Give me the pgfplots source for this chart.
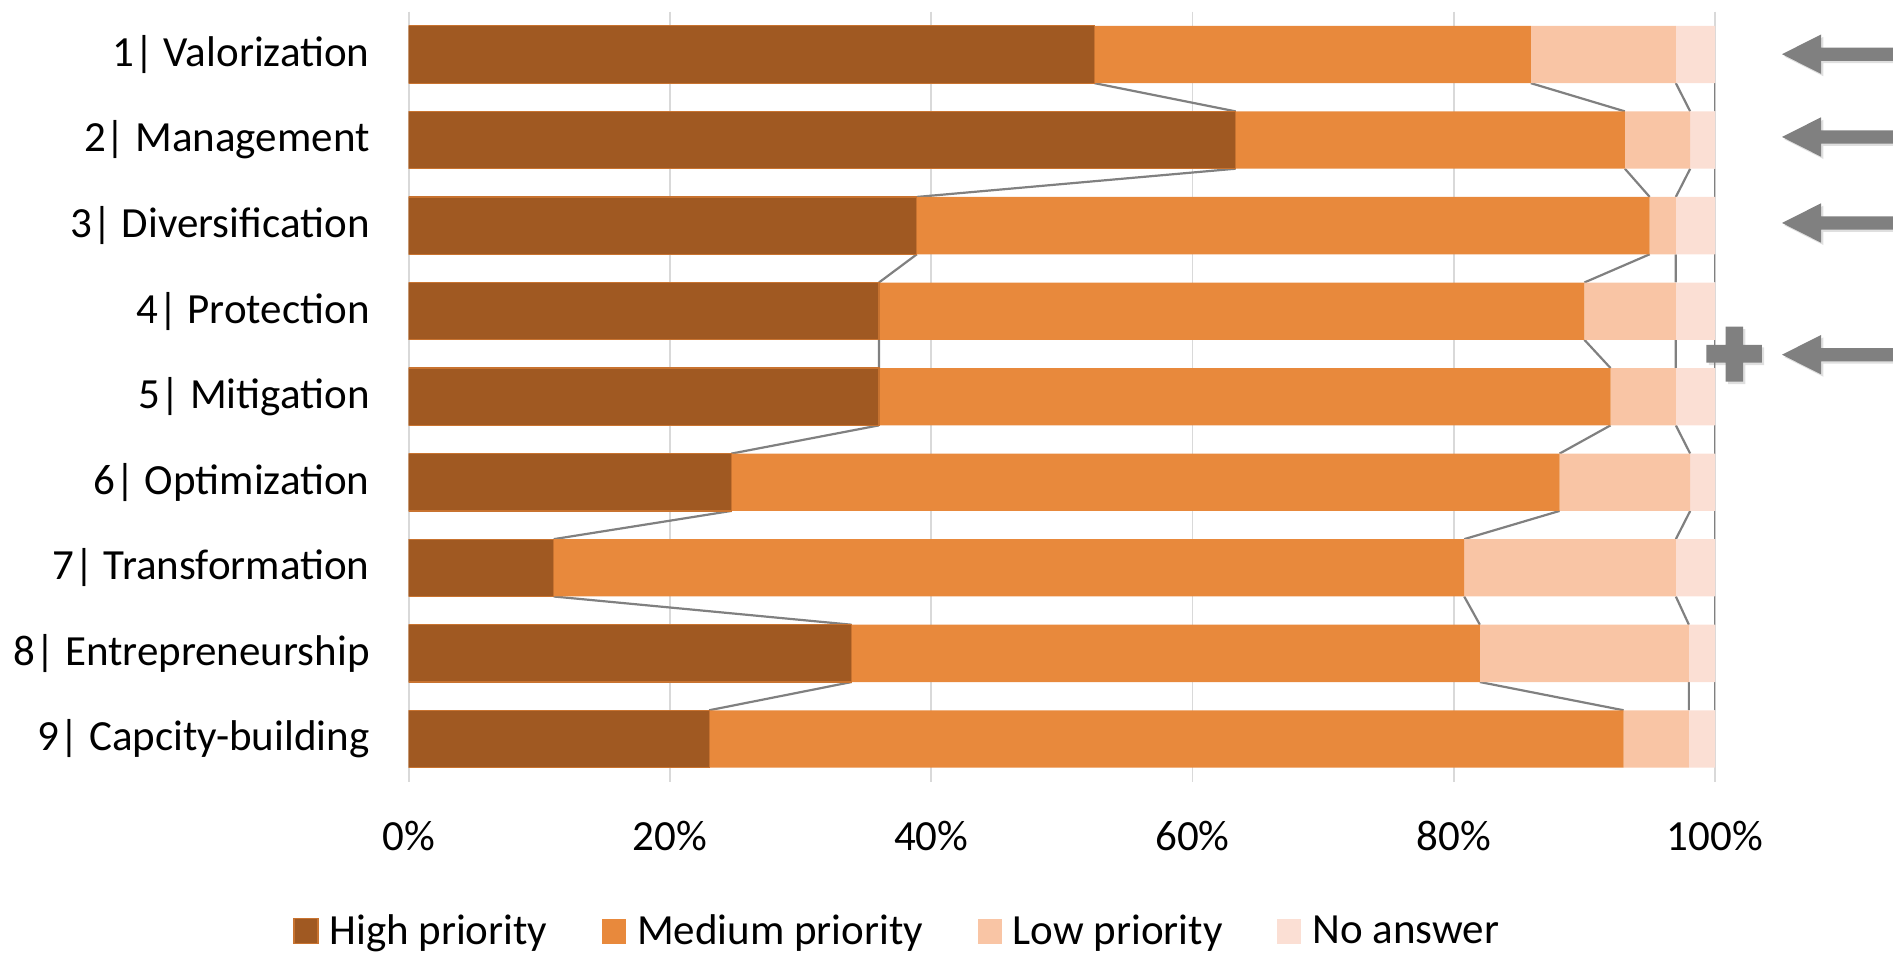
\documentclass[border=0pt]{standalone}
\usepackage{fontspec}
\setmainfont{Carlito}
\usepackage{pgfplots}
\usepackage{pgfplotstable}
\pgfplotsset{compat=1.18}
\usetikzlibrary{shadows}

\definecolor{cHigh}{RGB}{160,89,34}
\definecolor{cMed}{RGB}{232,137,60}
\definecolor{cLow}{RGB}{249,197,165}
\definecolor{cNA}{RGB}{251,223,212}
\definecolor{gridgray}{RGB}{217,217,217}
\definecolor{axgray}{RGB}{191,191,191}
\definecolor{lineg}{RGB}{128,128,128}

% shares per measure (percent of respondents)
\pgfplotstableread{
cat high med  low  na
1   52.5 33.4 11.1 3.0
2   63.3 29.8 5.0  1.9
3   38.9 56.1 2.0  3.0
4   36.0 54.0 7.0  3.0
5   36.0 56.0 5.0  3.0
6   24.7 63.4 10.0 1.9
7   11.1 69.7 16.2 3.0
8   33.9 48.1 16.0 2.0
9   23.0 70.0 5.0  2.0
}\prio

\newcommand{\lblfont}{\fontsize{21.5}{25}\selectfont}

\pgfplotsset{
  frame/.style={
    at={(204.35pt,85.15pt)}, anchor=south west,
    scale only axis, width=653.15pt, height=385pt,
    xmin=0, xmax=100, ymin=0.5, ymax=9.5, y dir=reverse,
  },
  sline/.style={draw=lineg, line width=1.1pt, no markers},
  sqlegend/.style={legend image code/.code={\fill[##1] (0pt,-6.25pt) rectangle (12pt,6.25pt);}},
}

\begin{document}
\begin{tikzpicture}
\useasboundingbox (0pt,0pt) rectangle (946.5pt,476pt);

% grid, tick labels and series lines (below the bars)
\begin{axis}[frame,
  xtick={0,20,40,60,80,100},
  xticklabels={0\%,20\%,40\%,60\%,80\%,100\%},
  ytick={1,...,9},
  yticklabels={1| Valorization,2| Management,3| Diversification,4| Protection,5| Mitigation,6| Optimization,7| Transformation,8| Entrepreneurship,9| Capcity-building},
  major tick length=0pt,
  axis line style={draw=none},
  xmajorgrids,
  major grid style={draw=gridgray, line width=0.9pt},
  extra x ticks={0}, extra x tick labels={},
  extra x tick style={grid style={draw=axgray, line width=0.9pt}},
  tick label style={font=\lblfont, text=black},
  xticklabel style={yshift=-16.2pt},
  yticklabel style={xshift=-16pt},
  unbounded coords=jump,
]
\addplot[sline] coordinates {
 (52.5,1.335)(63.3,1.665) (0,nan)
 (63.3,2.335)(38.9,2.665) (0,nan)
 (38.9,3.335)(36.0,3.665) (0,nan)
 (36.0,4.335)(36.0,4.665) (0,nan)
 (36.0,5.335)(24.7,5.665) (0,nan)
 (24.7,6.335)(11.1,6.665) (0,nan)
 (11.1,7.335)(33.9,7.665) (0,nan)
 (33.9,8.335)(23.0,8.665)};
\addplot[sline] coordinates {
 (85.9,1.335)(93.1,1.665) (0,nan)
 (93.1,2.335)(95.0,2.665) (0,nan)
 (95.0,3.335)(90.0,3.665) (0,nan)
 (90.0,4.335)(92.0,4.665) (0,nan)
 (92.0,5.335)(88.1,5.665) (0,nan)
 (88.1,6.335)(80.8,6.665) (0,nan)
 (80.8,7.335)(82.0,7.665) (0,nan)
 (82.0,8.335)(93.0,8.665)};
\addplot[sline] coordinates {
 (97.0,1.335)(98.1,1.665) (0,nan)
 (98.1,2.335)(97.0,2.665) (0,nan)
 (97.0,3.335)(97.0,3.665) (0,nan)
 (97.0,4.335)(97.0,4.665) (0,nan)
 (97.0,5.335)(98.1,5.665) (0,nan)
 (98.1,6.335)(97.0,6.665) (0,nan)
 (97.0,7.335)(98.0,7.665) (0,nan)
 (98.0,8.335)(98.0,8.665)};
\addplot[sline] coordinates {
 (100,1.335)(100,1.665) (0,nan)
 (100,2.335)(100,2.665) (0,nan)
 (100,3.335)(100,3.665) (0,nan)
 (100,4.335)(100,4.665) (0,nan)
 (100,5.335)(100,5.665) (0,nan)
 (100,6.335)(100,6.665) (0,nan)
 (100,7.335)(100,7.665) (0,nan)
 (100,8.335)(100,8.665)};
\end{axis}

% stacked bars and legend
\begin{axis}[frame,
  hide axis,
  xbar stacked,
  bar width=28.65pt,
  legend columns=4,
  legend style={draw=none, fill=none, inner sep=0pt,
    at={(axis description cs:-0.0886,-0.194)}, anchor=west,
    font=\lblfont,
    /tikz/every odd column/.append style={column sep=2.4pt},
    /tikz/every even column/.append style={column sep=24.4pt},
    nodes={inner sep=3pt}},
]
\addplot[fill=cHigh, draw=cMed!55!cHigh, line width=0.6pt, sqlegend] table[x=high, y=cat] {\prio};
\addplot[fill=cMed, draw=none, sqlegend] table[x=med, y=cat] {\prio};
\addplot[fill=cLow, draw=none, sqlegend] table[x=low, y=cat] {\prio};
\addplot[fill=cNA, draw=none, sqlegend] table[x=na, y=cat] {\prio};
\legend{High priority, Medium priority, Low priority, No answer}
\end{axis}

% pointers on the right margin
\begin{scope}[x=0.5pt, y=-0.5pt, shift={(0pt,476pt)}]
  \tikzset{pointer/.style={fill=lineg, draw=none,
      drop shadow={shadow xshift=1.2pt, shadow yshift=-1.2pt, opacity=0.25}}}
  \foreach \c in {54.2, 137, 223, 354.7} {
    \path[pointer] (1782,\c) -- (1821,\c-19.7) -- (1821,\c-6.6) -- (1893,\c-6.6)
        -- (1893,\c+6.6) -- (1821,\c+6.6) -- (1821,\c+19.7) -- cycle;
  }
  \path[pointer] (1725.7,326.7) -- (1743,326.7) -- (1743,345) -- (1761.8,345)
      -- (1761.8,362.7) -- (1743,362.7) -- (1743,381.7) -- (1725.7,381.7)
      -- (1725.7,362.7) -- (1706.4,362.7) -- (1706.4,345) -- (1725.7,345) -- cycle;
\end{scope}
\end{tikzpicture}
\end{document}
